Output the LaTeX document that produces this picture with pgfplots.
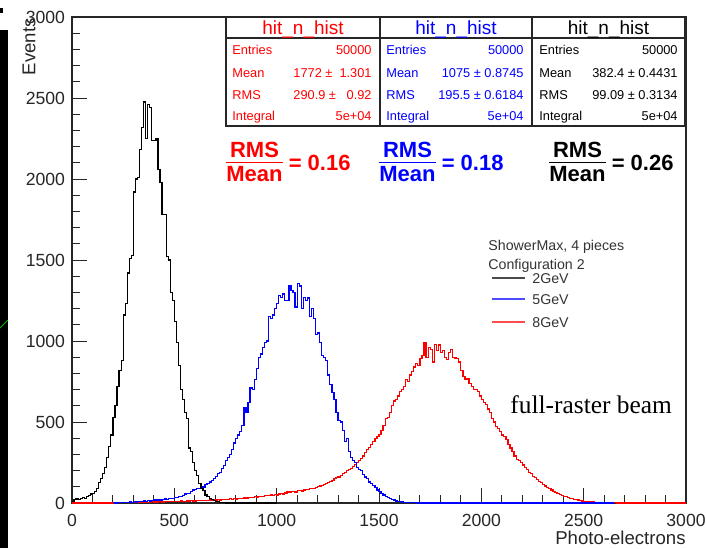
\documentclass[border=0pt]{standalone}
\usepackage{pgfplots}
\pgfplotsset{compat=1.18}
\usepackage{pgfplotstable}
\usepackage{fontspec}
\setmainfont{Liberation Sans}
\newfontfamily\timesfont{Liberation Serif}
\definecolor{rootred}{RGB}{255,0,0}
\definecolor{rootblue}{RGB}{0,0,255}

% 2 GeV
\pgfplotstableread[row sep=\\]{
x y\\
0 10\\ 10 20\\ 20 25\\ 30 20\\ 40 30\\ 50 35\\ 60 30\\ 70 40\\ 80 45\\ 90 55\\
100 60\\ 110 70\\ 120 90\\ 130 125\\ 140 150\\ 150 180\\ 160 220\\ 170 280\\ 180 350\\ 190 420\\
200 530\\ 210 600\\ 220 720\\ 230 820\\ 240 880\\ 250 1160\\ 260 1230\\ 270 1420\\ 280 1510\\ 290 1530\\
300 1920\\ 310 2000\\ 320 2010\\ 330 2180\\ 340 2320\\ 350 2475\\ 360 2250\\ 370 2460\\ 380 2440\\ 390 2240\\
400 2240\\ 410 2250\\ 420 2060\\ 430 1980\\ 440 1780\\ 450 1780\\ 460 1520\\ 470 1500\\ 480 1300\\ 490 1250\\
500 1120\\ 510 990\\ 520 850\\ 530 700\\ 540 640\\ 550 560\\ 560 520\\ 570 340\\ 580 320\\ 590 250\\
600 200\\ 610 170\\ 620 120\\ 630 90\\ 640 75\\ 650 50\\ 660 40\\ 670 30\\ 680 20\\ 690 15\\
700 10\\ 710 8\\ 720 5\\ 730 3\\ 740 2\\ 750 0\\ 1000 0\\
}\blackhist

% 5 GeV
\pgfplotstableread[row sep=\\]{
x y\\
200 2\\ 210 0\\ 220 3\\ 230 2\\ 240 4\\ 250 3\\ 260 5\\ 270 4\\ 280 6\\ 290 5\\
300 8\\ 310 6\\ 320 8\\ 330 10\\ 340 9\\ 350 12\\ 360 10\\ 370 14\\ 380 12\\ 390 15\\
400 18\\ 410 16\\ 420 20\\ 430 18\\ 440 22\\ 450 25\\ 460 22\\ 470 28\\ 480 30\\ 490 28\\
500 35\\ 510 32\\ 520 38\\ 530 40\\ 540 48\\ 550 55\\ 560 60\\ 570 58\\ 580 72\\ 590 80\\
600 85\\ 610 90\\ 620 88\\ 630 100\\ 640 98\\ 650 115\\ 660 120\\ 670 130\\ 680 140\\ 690 150\\
700 165\\ 710 180\\ 720 190\\ 730 215\\ 740 230\\ 750 260\\ 760 280\\ 770 300\\ 780 330\\ 790 370\\
800 400\\ 810 420\\ 820 440\\ 830 480\\ 840 590\\ 850 560\\ 860 620\\ 870 710\\ 880 700\\ 890 760\\
900 830\\ 910 900\\ 920 920\\ 930 960\\ 940 990\\ 950 1000\\ 960 1150\\ 970 1140\\ 980 1160\\ 990 1200\\
1000 1230\\ 1010 1280\\ 1020 1270\\ 1030 1290\\ 1040 1250\\ 1050 1250\\ 1060 1345\\ 1070 1310\\ 1080 1300\\ 1090 1210\\
1100 1355\\ 1110 1340\\ 1120 1200\\ 1130 1270\\ 1140 1250\\ 1150 1265\\ 1160 1150\\ 1170 1200\\ 1180 1140\\ 1190 1040\\
1200 1050\\ 1210 990\\ 1220 910\\ 1230 900\\ 1240 880\\ 1250 790\\ 1260 730\\ 1270 680\\ 1280 640\\ 1290 560\\
1300 510\\ 1310 500\\ 1320 450\\ 1330 380\\ 1340 400\\ 1350 320\\ 1360 280\\ 1370 260\\ 1380 250\\ 1390 220\\
1400 205\\ 1410 200\\ 1420 175\\ 1430 160\\ 1440 150\\ 1450 130\\ 1460 120\\ 1470 110\\ 1480 95\\ 1490 80\\
1500 70\\ 1510 60\\ 1520 50\\ 1530 40\\ 1540 35\\ 1550 28\\ 1560 22\\ 1570 18\\ 1580 12\\ 1590 10\\
1600 8\\ 1610 6\\ 1620 5\\ 1630 4\\ 1640 3\\ 1650 2\\ 1660 2\\ 1670 1\\ 1680 1\\ 1690 0\\ 2650 0\\
}\bluehist

% 8 GeV
\pgfplotstableread[row sep=\\]{
x y\\
0 0\\
200 1\\ 210 2\\ 220 1\\ 230 3\\ 240 2\\ 250 3\\ 260 2\\ 270 4\\ 280 3\\ 290 3\\
300 4\\ 310 5\\ 320 3\\ 330 5\\ 340 4\\ 350 6\\ 360 5\\ 370 4\\ 380 6\\ 390 7\\
400 6\\ 410 5\\ 420 8\\ 430 7\\ 440 6\\ 450 8\\ 460 9\\ 470 7\\ 480 10\\ 490 8\\
500 9\\ 510 11\\ 520 10\\ 530 12\\ 540 11\\ 550 10\\ 560 13\\ 570 12\\ 580 14\\ 590 12\\
600 13\\ 610 15\\ 620 14\\ 630 16\\ 640 15\\ 650 17\\ 660 16\\ 670 18\\ 680 17\\ 690 19\\
700 18\\ 710 20\\ 720 19\\ 730 22\\ 740 20\\ 750 24\\ 760 22\\ 770 26\\ 780 24\\ 790 27\\
800 25\\ 810 28\\ 820 27\\ 830 30\\ 840 32\\ 850 30\\ 860 34\\ 870 36\\ 880 35\\ 890 38\\
900 37\\ 910 40\\ 920 42\\ 930 40\\ 940 45\\ 950 44\\ 960 48\\ 970 50\\ 980 47\\ 990 52\\
1000 50\\ 1010 55\\ 1020 58\\ 1030 55\\ 1040 62\\ 1050 68\\ 1060 64\\ 1070 70\\ 1080 72\\ 1090 68\\
1100 75\\ 1110 78\\ 1120 74\\ 1130 80\\ 1140 82\\ 1150 85\\ 1160 88\\ 1170 92\\ 1180 90\\ 1190 96\\
1200 100\\ 1210 105\\ 1220 110\\ 1230 115\\ 1240 120\\ 1250 125\\ 1260 135\\ 1270 140\\ 1280 150\\ 1290 155\\
1300 160\\ 1310 170\\ 1320 180\\ 1330 188\\ 1340 200\\ 1350 205\\ 1360 215\\ 1370 225\\ 1380 240\\ 1390 250\\
1400 260\\ 1410 275\\ 1420 290\\ 1430 310\\ 1440 330\\ 1450 345\\ 1460 360\\ 1470 380\\ 1480 400\\ 1490 410\\
1500 425\\ 1510 450\\ 1520 480\\ 1530 520\\ 1540 530\\ 1550 560\\ 1560 600\\ 1570 630\\ 1580 640\\ 1590 660\\
1600 690\\ 1610 700\\ 1620 720\\ 1630 760\\ 1640 750\\ 1650 790\\ 1660 810\\ 1670 840\\ 1680 860\\ 1690 850\\
1700 890\\ 1710 910\\ 1720 990\\ 1730 900\\ 1740 960\\ 1750 950\\ 1760 870\\ 1770 980\\ 1780 940\\ 1790 975\\
1800 930\\ 1810 940\\ 1820 900\\ 1830 885\\ 1840 930\\ 1850 950\\ 1860 900\\ 1870 895\\ 1880 890\\ 1890 870\\
1900 820\\ 1910 780\\ 1920 760\\ 1930 770\\ 1940 740\\ 1950 720\\ 1960 700\\ 1970 700\\ 1980 690\\ 1990 660\\
2000 640\\ 2010 620\\ 2020 610\\ 2030 580\\ 2040 560\\ 2050 520\\ 2060 500\\ 2070 470\\ 2080 460\\ 2090 440\\
2100 420\\ 2110 410\\ 2120 390\\ 2130 360\\ 2140 340\\ 2150 320\\ 2160 290\\ 2170 270\\ 2180 260\\ 2190 250\\
2200 235\\ 2210 220\\ 2220 205\\ 2230 190\\ 2240 180\\ 2250 165\\ 2260 155\\ 2270 145\\ 2280 135\\ 2290 125\\
2300 115\\ 2310 105\\ 2320 95\\ 2330 88\\ 2340 80\\ 2350 72\\ 2360 66\\ 2370 60\\ 2380 52\\ 2390 48\\
2400 42\\ 2410 38\\ 2420 34\\ 2430 30\\ 2440 26\\ 2450 23\\ 2460 20\\ 2470 18\\ 2480 15\\ 2490 13\\
2500 11\\ 2510 9\\ 2520 8\\ 2530 7\\ 2540 6\\ 2550 5\\ 2560 4\\ 2570 4\\ 2580 3\\ 2590 3\\
2600 2\\ 2610 2\\ 2620 1\\ 2630 2\\ 2640 1\\ 2650 1\\ 2660 0\\ 3000 0\\
}\redhist

\begin{document}
\begin{tikzpicture}[x=0.5pt,y=0.5pt]
\useasboundingbox (0,0) rectangle (706,548);
% screenshot edge
\fill[black] (0,0) rectangle (8,518);
\fill[black] (0,535) rectangle (3,540);
\draw[green!70!black, line width=0.5pt] (0,220) -- (8,228);

\begin{axis}[
  at={(36pt,22.5pt)}, anchor=south west,
  scale only axis, width=307pt, height=243pt,
  xmin=0, xmax=3000, ymin=0, ymax=3000,
  xtick={0,500,...,3000}, ytick={0,500,...,3000},
  minor tick num=4,
  tick align=inside, xtick pos=left, ytick pos=left,
  major tick length=7.5pt, minor tick length=4pt,
  axis line style={black!85, line width=0.6pt},
  tick style={black!85, line width=0.5pt},
  tick label style={font=\fontsize{8.8}{10}\selectfont, text=black!85},
  xticklabel style={yshift=-2pt},
  /pgf/number format/assume math mode=true,
  /pgf/number format/1000 sep={},
  clip=false,
]
\addplot[rootred, line width=0.6pt, const plot, mark=none] table[x=x, y=y] {\redhist};
\addplot[rootblue, line width=0.6pt, const plot, mark=none] table[x=x, y=y] {\bluehist};
\addplot[black, line width=0.6pt, const plot, mark=none] table[x=x, y=y] {\blackhist};
\end{axis}

% axis titles
\node[rotate=90, anchor=east, inner sep=0pt, font=\fontsize{9.3}{10}\selectfont, text=black!85] at (29,530) {Events};
\node[anchor=base east, inner sep=0pt, font=\fontsize{9.3}{10}\selectfont, text=black!85] at (686,4) {Photo-electrons};

% stat boxes
\draw[line width=0.6pt, black!85] (226,422) rectangle (685,531);
\draw[line width=0.6pt, black!85] (226,510) -- (685,510);
\draw[line width=0.6pt, black!85] (380,422) -- (380,531);
\draw[line width=0.6pt, black!85] (532,422) -- (532,531);

\begin{scope}[every node/.style={inner sep=0pt, font=\fontsize{9.5}{10}\selectfont}]
\node[anchor=base, text=rootred] at (303,514) {hit\_n\_hist};
\node[anchor=base, text=rootblue] at (456,514) {hit\_n\_hist};
\node[anchor=base, text=black] at (608.5,514) {hit\_n\_hist};
\end{scope}

\begin{scope}[every node/.style={inner sep=0pt, font=\fontsize{6.4}{7}\selectfont}]
% red
\node[anchor=base west, text=rootred] at (232,493.4) {Entries};
\node[anchor=base west, text=rootred] at (232,470.4) {Mean};
\node[anchor=base west, text=rootred] at (232,448.4) {RMS};
\node[anchor=base west, text=rootred] at (232,427.4) {Integral};
\node[anchor=base east, text=rootred] at (372,493.4) {50000};
\node[anchor=base east, text=rootred] at (372,470.4) {1772 ± \ 1.301};
\node[anchor=base east, text=rootred] at (372,448.4) {290.9 ± \ \ 0.92};
\node[anchor=base east, text=rootred] at (372,427.4) {5e+04};
% blue
\node[anchor=base west, text=rootblue] at (386,493.4) {Entries};
\node[anchor=base west, text=rootblue] at (386,470.4) {Mean};
\node[anchor=base west, text=rootblue] at (386,448.4) {RMS};
\node[anchor=base west, text=rootblue] at (386,427.4) {Integral};
\node[anchor=base east, text=rootblue] at (524,493.4) {50000};
\node[anchor=base east, text=rootblue] at (524,470.4) {1075 ± 0.8745};
\node[anchor=base east, text=rootblue] at (524,448.4) {195.5 ± 0.6184};
\node[anchor=base east, text=rootblue] at (524,427.4) {5e+04};
% black
\node[anchor=base west, text=black] at (539,493.4) {Entries};
\node[anchor=base west, text=black] at (539,470.4) {Mean};
\node[anchor=base west, text=black] at (539,448.4) {RMS};
\node[anchor=base west, text=black] at (539,427.4) {Integral};
\node[anchor=base east, text=black] at (678,493.4) {50000};
\node[anchor=base east, text=black] at (678,470.4) {382.4 ± 0.4431};
\node[anchor=base east, text=black] at (678,448.4) {99.09 ± 0.3134};
\node[anchor=base east, text=black] at (678,427.4) {5e+04};
\end{scope}

% RMS/Mean fractions
\begin{scope}[every node/.style={inner sep=0pt, anchor=west, font=\fontsize{11}{13.2}\selectfont\bfseries}]
\renewcommand\arraystretch{0.8}
\node[text=rootred] at (226,383) {\begin{tabular}{@{}c@{}}RMS\\[-1pt]\hline\noalign{\vskip1.5pt}Mean\end{tabular} = 0.16};
\node[text=rootblue] at (379,383) {\begin{tabular}{@{}c@{}}RMS\\[-1pt]\hline\noalign{\vskip1.5pt}Mean\end{tabular} = 0.18};
\node[text=black] at (549,383) {\begin{tabular}{@{}c@{}}RMS\\[-1pt]\hline\noalign{\vskip1.5pt}Mean\end{tabular} = 0.26};
\end{scope}

% legend
\begin{scope}[every node/.style={inner sep=0pt, anchor=base west, font=\fontsize{7.1}{8}\selectfont, text=black!80}]
\node at (488,297.9) {ShowerMax, 4 pieces};
\node at (488,278.9) {Configuration 2};
\draw[black!70, line width=0.8pt] (492,270) -- (525,270);
\node at (532,264.9) {2GeV};
\draw[rootblue!70, line width=0.8pt] (492,249) -- (525,249);
\node at (532,243.9) {5GeV};
\draw[rootred!70, line width=0.8pt] (492,226) -- (525,226);
\node at (532,220.9) {8GeV};
\end{scope}

\node[anchor=base west, inner sep=0pt, font=\timesfont\fontsize{12.7}{14}\selectfont] at (510,134.4) {full-raster beam};
\end{tikzpicture}
\end{document}
